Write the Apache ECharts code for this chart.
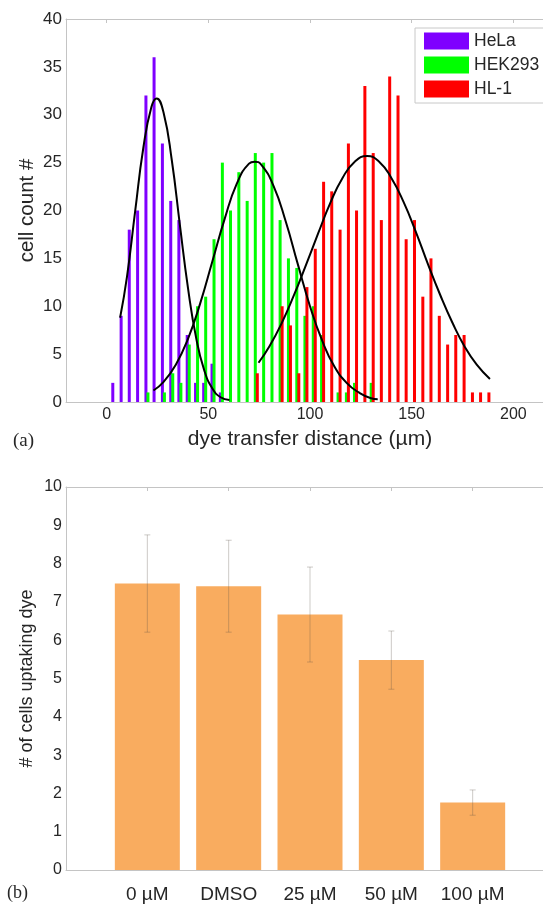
<!DOCTYPE html>
<html>
<head>
<meta charset="utf-8">
<script src="https://cdn.jsdelivr.net/npm/echarts@6/dist/echarts.min.js"></script>
<style>
  html, body { margin: 0; padding: 0; background: #fff; }
  #chart { width: 543px; height: 906px; }
</style>
</head>
<body>
<div id="chart"></div>
<script>
// (a) histogram, bin centres in um
const binCenters = [4.0, 8.1, 12.1, 16.2, 20.3, 24.3, 28.4, 32.5, 36.5, 40.6, 44.7, 48.7,
  52.8, 56.9, 60.9, 65.0, 69.1, 73.1, 77.2, 81.3, 85.3, 89.4, 93.5, 97.5, 101.6, 105.7,
  109.7, 113.8, 117.9, 121.9, 126.0, 130.1, 134.1, 138.2, 142.3, 146.3, 150.4, 154.5,
  158.5, 162.6, 166.7, 170.7, 174.8, 178.9, 182.9, 187.0];
const helaCounts = [2, 9, 18, 20, 32, 36, 27, 21, 19, 7, 2, 2, 4, 1, 0, 0, 0, 0, 0, 0, 0, 0, 0,
  0, 0, 0, 0, 0, 0, 0, 0, 0, 0, 0, 0, 0, 0, 0, 0, 0, 0, 0, 0, 0, 0, 0];
const hekCounts = [0, 0, 0, 0, 1, 0, 1, 3, 2, 6, 10, 11, 17, 25, 20, 24, 21, 26, 25, 26, 19, 15,
  14, 9, 10, 7, 0, 1, 1, 2, 0, 2, 0, 0, 0, 0, 0, 0, 0, 0, 0, 0, 0, 0, 0, 0];
const hl1Counts = [0, 0, 0, 0, 0, 0, 0, 0, 0, 0, 0, 0, 0, 0, 0, 0, 0, 3, 0, 0, 10, 8, 3, 12, 16,
  23, 22, 18, 27, 20, 33, 26, 19, 34, 32, 17, 19, 11, 15, 9, 6, 7, 7, 1, 1, 1];

// gaussian fit curves
const helaFit = [[6.6, 8.8], [10, 13.1], [14, 19.9], [18, 26.5], [22, 30.8], [24.6, 31.7],
  [28, 30.2], [32, 25.3], [36, 18.5], [40, 11.9], [44, 6.7], [48, 3.3], [52, 1.4], [56, 0.5],
  [60.4, 0.2]];
const hekFit = [[23, 1.2], [28, 2.1], [34, 3.9], [40, 6.6], [46, 10.3], [52, 14.7], [58, 19.1],
  [64, 22.8], [70, 24.9], [72.8, 25.1], [76, 24.8], [82, 22.6], [88, 18.9], [94, 14.4],
  [100, 10.0], [106, 6.4], [112, 3.7], [118, 2.0], [124, 1.0], [130, 0.4], [133.3, 0.3]];
const hl1Fit = [[74.7, 4.1], [80, 5.8], [86, 8.2], [92, 11.1], [98, 14.3], [104, 17.6],
  [110, 20.8], [116, 23.4], [122, 25.1], [128.1, 25.7], [134, 25.1], [140, 23.4], [146, 20.9],
  [152, 17.8], [158, 14.4], [164, 11.2], [170, 8.3], [176, 5.8], [182, 3.9], [188.5, 2.4]];

// (b) dye uptake per condition
const conditions = ['0 µM', 'DMSO', '25 µM', '50 µM', '100 µM'];
const uptakeMean = [7.48, 7.41, 6.67, 5.48, 1.76];
const uptakeErr = [1.27, 1.20, 1.24, 0.76, 0.33];

const FONT = '"Liberation Sans", Arial, sans-serif';
const TXT = '#262626';
const LINE = '#c4c4c4';

function histData(counts) {
  return binCenters.map((x, i) => [x, counts[i]]).filter(d => d[1] > 0);
}

function histSeries(name, counts, color) {
  return {
    name: name,
    type: 'bar',
    xAxisIndex: 0,
    yAxisIndex: 0,
    barWidth: 3,
    barGap: '-33%',
    itemStyle: { color: color },
    data: histData(counts)
  };
}

function fitSeries(points) {
  return {
    type: 'line',
    xAxisIndex: 0,
    yAxisIndex: 0,
    smooth: true,
    showSymbol: false,
    z: 5,
    lineStyle: { color: '#000', width: 2 },
    data: points
  };
}

const chart = echarts.init(document.getElementById('chart'));

const option = {
  animation: false,
  textStyle: { fontFamily: FONT },
  legend: {
    data: ['HeLa', 'HEK293', 'HL-1'],
    orient: 'vertical',
    left: 415,
    top: 28,
    icon: 'rect',
    itemWidth: 45,
    itemHeight: 17,
    itemGap: 6,
    padding: [4, 8, 5, 9],
    backgroundColor: '#fff',
    borderColor: '#c8c8c8',
    borderWidth: 1,
    textStyle: { fontSize: 17.5, color: TXT, fontFamily: FONT }
  },
  grid: [
    // frames run past the right edge, as in the cropped original
    { left: 66, width: 488, top: 19, height: 383, outerBoundsMode: 'none', containLabel: false },
    { left: 66, width: 488, top: 487, height: 383, outerBoundsMode: 'none', containLabel: false }
  ],
  xAxis: [
    {
      gridIndex: 0, type: 'value', min: -20, max: 220,
      name: 'dye transfer distance (µm)', nameLocation: 'middle', nameGap: 27,
      nameMoveOverlap: false,
      nameTextStyle: { fontSize: 21, color: TXT },
      axisLine: { onZero: false, lineStyle: { color: LINE } },
      axisTick: { show: false },
      splitLine: { show: false },
      axisLabel: {
        fontSize: 16, color: TXT, margin: 5,
        showMinLabel: false, showMaxLabel: false,
        formatter: v => (v % 50 === 0 && v <= 200 ? String(v) : '')
      }
    },
    {
      gridIndex: 0, type: 'value', min: -20, max: 220, position: 'top',
      axisLine: { onZero: false, lineStyle: { color: LINE } },
      axisTick: { inside: true, length: 4, lineStyle: { color: LINE } },
      axisLabel: { show: false },
      splitLine: { show: false }
    },
    {
      gridIndex: 1, type: 'value', min: 0, max: 6, interval: 1,
      axisLine: { onZero: false, lineStyle: { color: LINE } },
      axisTick: { show: false },
      splitLine: { show: false },
      axisLabel: {
        fontSize: 19, color: TXT, margin: 15,
        formatter: v => (Number.isInteger(v) && v >= 1 && v <= conditions.length ? conditions[v - 1] : '')
      }
    },
    {
      gridIndex: 1, type: 'value', min: 0, max: 6, interval: 1, position: 'top',
      axisLine: { onZero: false, lineStyle: { color: LINE } },
      axisTick: { inside: true, length: 4, lineStyle: { color: LINE } },
      axisLabel: { show: false },
      splitLine: { show: false }
    }
  ],
  yAxis: [
    {
      gridIndex: 0, type: 'value', min: 0, max: 40, interval: 5,
      name: 'cell count #', nameLocation: 'middle', nameGap: 28, nameRotate: 90,
      nameMoveOverlap: false,
      nameTextStyle: { fontSize: 20.5, color: TXT },
      axisLine: { show: true, onZero: false, lineStyle: { color: LINE } },
      axisTick: { show: false },
      splitLine: { show: false },
      axisLabel: { fontSize: 17, color: TXT, margin: 4 }
    },
    {
      gridIndex: 1, type: 'value', min: 0, max: 10, interval: 1,
      name: '# of cells uptaking dye', nameLocation: 'middle', nameGap: 30, nameRotate: 90,
      nameMoveOverlap: false,
      nameTextStyle: { fontSize: 18, color: TXT },
      axisLine: { show: true, onZero: false, lineStyle: { color: LINE } },
      axisTick: { show: false },
      splitLine: { show: false },
      axisLabel: { fontSize: 16, color: TXT, margin: 4 }
    }
  ],
  graphic: [
    { type: 'text', left: 13, top: 432, style: { text: '(a)', font: '19px "Liberation Serif", serif', fill: TXT } },
    { type: 'text', left: 7, top: 884, style: { text: '(b)', font: '18px "Liberation Serif", serif', fill: TXT } }
  ],
  series: [
    histSeries('HeLa', helaCounts, '#7f00ff'),
    histSeries('HEK293', hekCounts, '#00ff00'),
    histSeries('HL-1', hl1Counts, '#ff0000'),
    fitSeries(helaFit),
    fitSeries(hekFit),
    fitSeries(hl1Fit),
    {
      type: 'bar',
      xAxisIndex: 2,
      yAxisIndex: 1,
      barWidth: 65,
      itemStyle: { color: '#f9ac5f' },
      data: uptakeMean.map((v, i) => [i + 1, v])
    },
    {
      type: 'custom',
      xAxisIndex: 2,
      yAxisIndex: 1,
      z: 5,
      encode: { x: 0, y: [1, 2] },
      data: uptakeMean.map((v, i) => [i + 1, v - uptakeErr[i], v + uptakeErr[i]]),
      renderItem: function (params, api) {
        const x = api.value(0);
        const lo = api.coord([x, api.value(1)]);
        const hi = api.coord([x, api.value(2)]);
        const cap = 3;
        const style = { stroke: 'rgba(90,80,70,0.3)', lineWidth: 1 };
        return {
          type: 'group',
          children: [
            { type: 'line', shape: { x1: hi[0], y1: hi[1], x2: lo[0], y2: lo[1] }, style: style },
            { type: 'line', shape: { x1: hi[0] - cap, y1: hi[1], x2: hi[0] + cap, y2: hi[1] }, style: style },
            { type: 'line', shape: { x1: lo[0] - cap, y1: lo[1], x2: lo[0] + cap, y2: lo[1] }, style: style }
          ]
        };
      }
    }
  ]
};

chart.setOption(option);
</script>
</body>
</html>
